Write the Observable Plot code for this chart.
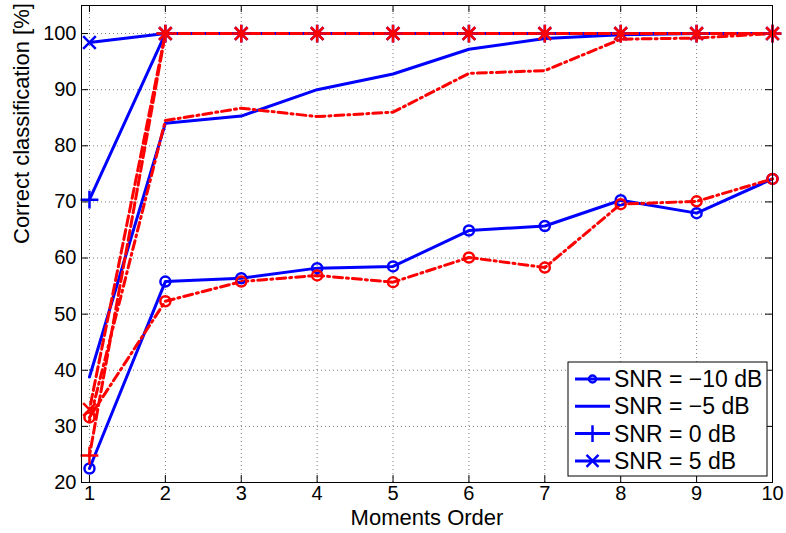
<!DOCTYPE html>
<html><head><meta charset="utf-8">
<script src="https://cdn.jsdelivr.net/npm/d3@7"></script>
<script src="https://cdn.jsdelivr.net/npm/@observablehq/plot@0.6"></script>
<style>
body{margin:0;background:#fff;}
#wrap{position:relative;width:786px;height:533px;font-family:"Liberation Sans",Arial,Helvetica,sans-serif;}
#legend{position:absolute;left:0;top:0;}
</style></head><body><div id="wrap"></div>
<script>
// ---- data ----
const order = [1,2,3,4,5,6,7,8,9,10];
const yTicks = [20,30,40,50,60,70,80,90,100];
const snrLabels = ["SNR = \u221210 dB","SNR = \u22125 dB","SNR = 0 dB","SNR = 5 dB"];
// blue (solid) method
const blueSnrM10 = [22.5,55.8,56.4,58.2,58.5,64.9,65.7,70.3,68.0,74.1];
const blueSnrM5  = [38.8,84.0,85.3,90.0,92.8,97.2,99.1,99.8,100,100];
const blueSnr0   = [70.4,100,100,100,100,100,100,100,100,100];
const blueSnr5   = [98.4,100,100,100,100,100,100,100,100,100];
// red (dashed) method
const redSnrM10 = [31.6,52.3,55.8,56.9,55.7,60.1,58.3,69.6,70.1,74.1];
const redSnrM5  = [31.0,84.5,86.7,85.2,86.0,92.9,93.4,99.0,99.2,100];
const redSnr0   = [24.8,100,100,100,100,100,100,100,100,100];
const redSnr5   = [33.0,100,100,100,100,100,100,100,100,100];

// ---- styles ----
const snrSymbols = ["circle", null, "plus", "times"];
const blueColor = "#0000ff", redColor = "#ff0000";
const dashDot = [9,4,2,4], dashed = [10,4];
const redDash = [dashDot, dashDot, dashed, dashed];

const font = '"Liberation Sans",Arial,Helvetica,sans-serif';
const W = 786, H = 533, mL = 81, mR = 14, mT = 5, mB = 51;
const fw = W - mL - mR, fh = H - mT - mB;
const xDomain = [0.895, 10], yDomain = [20, 105];
const sx = Plot.scale({x:{domain:xDomain, range:[mL, W-mR]}});
const sy = Plot.scale({y:{domain:yDomain, range:[H-mB, mT]}});

// phase-align dashed lines so they coincide where they overlap
function dashOffset(values, pattern) {
  if (!pattern) return 0;
  const P = d3.sum(pattern);
  const dx = sx.apply(order[1]) - sx.apply(order[0]);
  const dy = sy.apply(values[1]) - sy.apply(values[0]);
  const len = Math.hypot(dx, dy);
  return P - (len % P);
}

const series = [
  ...[blueSnrM10, blueSnrM5, blueSnr0, blueSnr5].map((v,i)=>({values:v, snr:i, color:blueColor, dash:null})),
  ...[redSnrM10, redSnrM5, redSnr0, redSnr5].map((v,i)=>({values:v, snr:i, color:redColor, dash:redDash[i]}))
];
const rowsOf = s => order.map((o,j)=>({order:o, value:s.values[j]}));

const marks = [
  Plot.gridX(order, {stroke:"#000", strokeOpacity:0.5, strokeDasharray:"1,3"}),
  Plot.gridY(yTicks, {stroke:"#000", strokeOpacity:0.5, strokeDasharray:"1,3"}),
  // inward ticks
  Plot.ruleY(yTicks, {y:d=>d, insetRight: fw-7, stroke:"#000"}),
  Plot.ruleY(yTicks, {y:d=>d, insetLeft: fw-7, stroke:"#000"}),
  Plot.ruleX(order, {x:d=>d, insetTop: fh-7, stroke:"#000"}),
  Plot.ruleX(order, {x:d=>d, insetBottom: fh-7, stroke:"#000"}),
  Plot.axisX(order, {tickSize:0, tickPadding:3, fontSize:20, label:null, tickFormat:d=>String(d)}),
  Plot.axisY(yTicks, {tickSize:0, tickPadding:5, fontSize:20, label:null, tickFormat:d=>String(d)}),
];
for (const s of series) {
  marks.push(Plot.line(rowsOf(s), {x:"order", y:"value", stroke:s.color, strokeWidth:3,
    strokeDasharray: s.dash ? s.dash.join(",") : undefined,
    strokeDashoffset: dashOffset(s.values, s.dash),
    strokeLinejoin:"round"}));
}
for (const s of series) {
  const sym = snrSymbols[s.snr];
  if (!sym) continue;
  marks.push(Plot.dot(rowsOf(s), {x:"order", y:"value", stroke:s.color, fill:"none",
    symbol: sym, r: sym==="circle" ? 5 : 5.8, strokeWidth: 2.5}));
}
marks.push(Plot.frame({stroke:"#000"}));
marks.push(Plot.text(["Moments Order"], {frameAnchor:"bottom", dy:42, text:d=>d, fontSize:22}));
marks.push(Plot.text(["Correct classification [%]"], {frameAnchor:"left", dx:-60, rotate:-90, text:d=>d, fontSize:22}));

const chart = Plot.plot({
  width: W, height: H,
  marginLeft: mL, marginRight: mR, marginTop: mT, marginBottom: mB,
  x: {domain: xDomain},
  y: {domain: yDomain},
  style: {fontFamily: font, color:"#000", background:"#fff", overflow:"visible"},
  marks
});
document.getElementById("wrap").appendChild(chart);

// ---- legend overlay ----
const lg = d3.select("#wrap").append("svg").attr("id","legend").attr("width",W).attr("height",H);
const bx = 568, by = 362, bw = 199, bh = 114;
lg.append("rect").attr("x",bx).attr("y",by).attr("width",bw).attr("height",bh)
  .attr("fill","#fff").attr("stroke","#000").attr("stroke-width",1);
const rowY = i => 379 + i*27.3;
const symMap = {circle:d3.symbolCircle, plus:d3.symbolPlus, times:d3.symbolTimes};
snrLabels.forEach((lab,i)=>{
  const y = rowY(i);
  lg.append("line").attr("x1",575).attr("x2",610).attr("y1",y).attr("y2",y)
    .attr("stroke",blueColor).attr("stroke-width",3);
  const sym = snrSymbols[i];
  if (sym) {
    const size = sym==="circle" ? Math.PI*3.5*3.5 : Math.PI*5.5*5.5;
    lg.append("path").attr("d", d3.symbol(symMap[sym], size)())
      .attr("transform",`translate(592.5,${y})`).attr("fill","none")
      .attr("stroke",blueColor).attr("stroke-width",2.5);
  }
  lg.append("text").attr("x",614).attr("y",y).attr("dy","0.35em")
    .attr("font-family",font).attr("font-size",23).text(lab);
});
</script></body></html>
